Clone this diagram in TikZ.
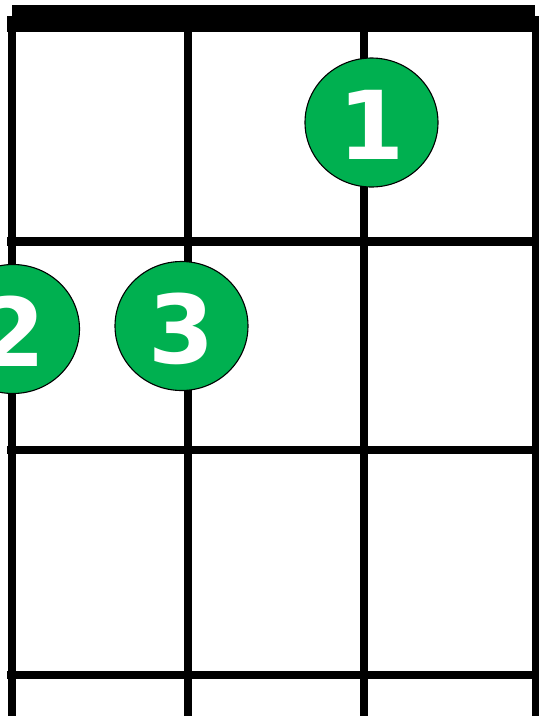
\documentclass[tikz,border=0pt]{standalone}
\usepackage{fontspec}
\newfontfamily\fingerfont{DejaVu Sans}
\usetikzlibrary{shapes.geometric}
\definecolor{FretLine}{HTML}{000000}
\definecolor{FingerGreen}{HTML}{00B050}

\begin{document}
\begin{tikzpicture}[x=1pt,y=-1pt,
  fret/.style={draw=FretLine,line width=8.5pt},
  string/.style={draw=FretLine,line width=8pt},
  finger/.style={ellipse,draw=FretLine,fill=FingerGreen,line width=1.1pt,minimum width=133pt,minimum height=129pt,inner sep=0pt,text height=74pt,text depth=0pt,text=white,font=\fingerfont\bfseries\fontsize{95}{95}\selectfont}
]
\useasboundingbox[fill=white] (0,0) rectangle (539,716);
% nut
\fill[FretLine] (12,4.5) rectangle (535,16);
\fill[FretLine] (7,16) rectangle (539,32);
% strings
\draw[string] (11.5,16) -- (11.5,716);
\draw[string] (187.5,16) -- (187.5,716);
\draw[string] (364,16) -- (364,716);
\draw[string] (535.5,16) -- (535.5,716);
% frets
\draw[fret] (7,241.5) -- (539,241.5);
\draw[fret] (7,450) -- (539,450);
\draw[fret] (7,675) -- (539,675);
% fingers
\node[finger] (one) at (371.5,122.5) {1};
\node[finger] (two) at (13,329) {2};
\node[finger] (three) at (181.5,326) {3};
\end{tikzpicture}
\end{document}
